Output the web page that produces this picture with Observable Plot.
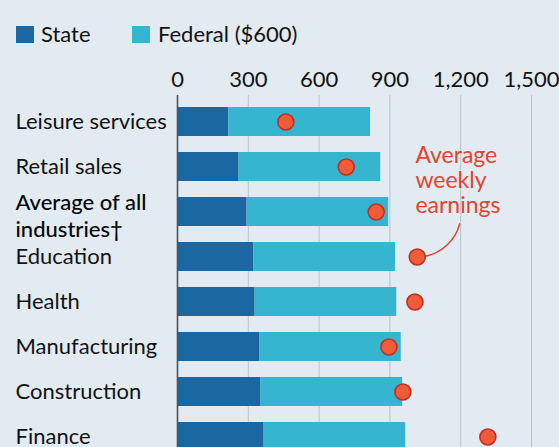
<!DOCTYPE html>
<html><head><meta charset="utf-8">
<script src="https://cdn.jsdelivr.net/npm/d3@7"></script>
<script src="https://cdn.jsdelivr.net/npm/@observablehq/plot@0.6"></script>
<style>
html,body{margin:0;padding:0;background:#e2ebf2;overflow:hidden;width:559px;height:447px;}
#legend{height:60px;position:relative;font-family:Lato,sans-serif;font-size:22px;color:#121212;}
.sw{position:absolute;top:26px;width:18px;height:17px;}
.lb{position:absolute;top:23px;line-height:22px;white-space:nowrap;}
#chart svg{display:block;}
</style>
</head><body>
<div id="legend"></div>
<div id="chart"></div>
<script>
const industries = ["Leisure services","Retail sales","Average of all\nindustries†","Education","Health","Manufacturing","Construction","Finance"];
const stateBenefit = [218,261,295,324,329,348,354,367];
const federalBenefit = [600,600,600,600,600,600,600,600];
const weeklyEarnings = [459,715,842,1016,1006,896,955,1315];
const xTicks = [0,300,600,900,1200,1500];
const seriesNames = ["State","Federal ($600)"];
const seriesColors = ["#1a67a1","#35b5cf"];
const annotationText = "Average\nweekly\nearnings";

// legend
const legend = document.getElementById("legend");
const swX = [16,132], lbX = [41,158];
seriesNames.forEach((name,i)=>{
  const s=document.createElement("div"); s.className="sw"; s.style.left=swX[i]+"px"; s.style.background=seriesColors[i]; legend.appendChild(s);
  const l=document.createElement("div"); l.className="lb"; l.style.left=lbX[i]+"px"; l.textContent=name; legend.appendChild(l);
});

const bars = industries.flatMap((d,i)=>[
  {industry:d, series:seriesNames[0], value:stateBenefit[i]},
  {industry:d, series:seriesNames[1], value:federalBenefit[i]}
]);
const points = industries.map((d,i)=>({industry:d, earnings:weeklyEarnings[i]}));
const boldLabel = industries[2];
const regular = industries.filter(d=>d!==boldLabel);

const chart = Plot.plot({
  width:559, height:420,
  marginLeft:177, marginRight:28, marginTop:35, marginBottom:0,
  x:{domain:[0,1500], axis:null},
  y:{domain:industries, range:[30.4,408.3], padding:0.36, axis:null},
  color:{domain:seriesNames, range:seriesColors},
  style:{background:"transparent", fontFamily:"Lato, sans-serif", fontSize:"22px", color:"#121212"},
  marks:[
    Plot.ruleX(xTicks.slice(1), {stroke:"#b9c3cb", strokeWidth:1}),
    Plot.barX(bars, {x:"value", y:"industry", fill:"series"}),
    Plot.ruleX([0], {stroke:"#4d5258", strokeWidth:1.6}),
    Plot.text(xTicks, {x:d=>d, text:d=>d3.format(",")(d), frameAnchor:"top", lineAnchor:"middle", dy:-16, fontSize:22, fill:"#121212"}),
    Plot.text(regular, {y:d=>d, text:d=>d, frameAnchor:"left", dx:-162, textAnchor:"start", fontSize:22, fill:"#121212"}),
    Plot.text([boldLabel], {y:d=>d, text:d=>d, frameAnchor:"left", dx:-162, dy:3, textAnchor:"start", fontSize:22, fontWeight:500, lineHeight:1.22, fill:"#050505"}),
    Plot.arrow([{x1:weeklyEarnings[3], y1:industries[3], x2:1202, y2:industries[2]}], {x1:"x1", y1:"y1", x2:"x2", y2:"y2", bend:-45, headLength:0, insetStart:8, insetEnd:12, stroke:"#d9463a", strokeWidth:1.6}),
    Plot.dot(points, {x:"earnings", y:"industry", r:8, fill:"#ef5c37", stroke:"#c42e24", strokeWidth:1.6}),
    Plot.text([{x:1008, y:industries[1], t:annotationText}], {x:"x", y:"y", text:"t", textAnchor:"start", dy:13, fontSize:23, lineHeight:1.1, fill:"#e5432f"})
  ]
});
document.getElementById("chart").appendChild(chart);
</script>
</body></html>
